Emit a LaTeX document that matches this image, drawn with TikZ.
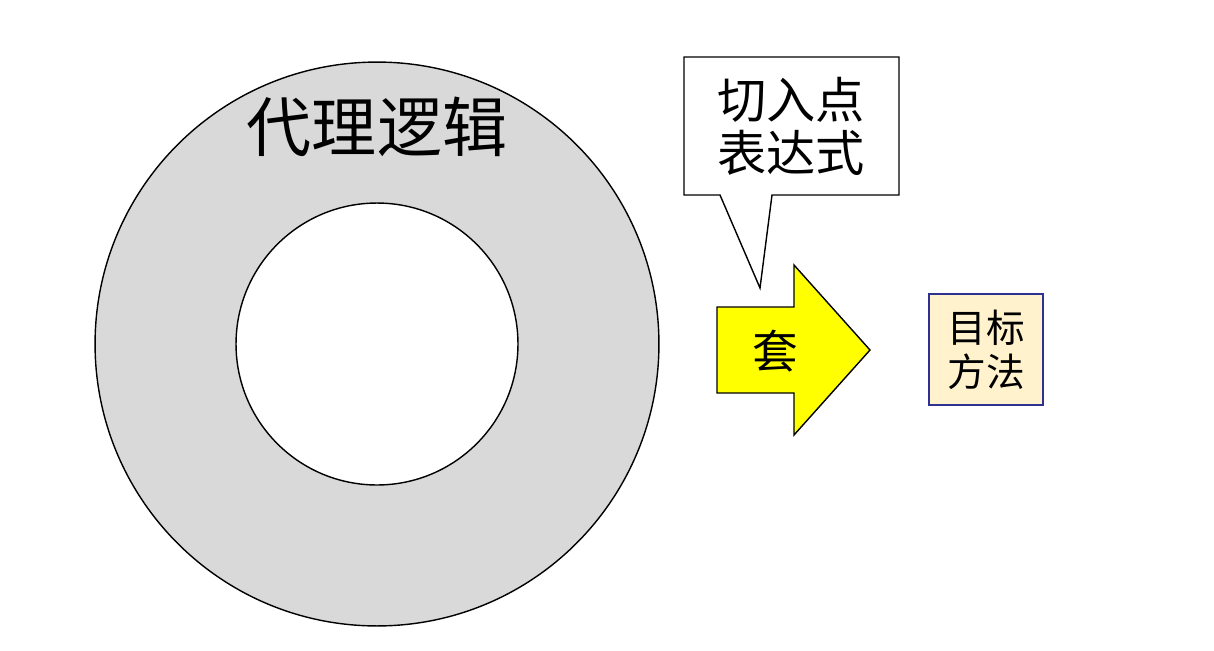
\documentclass[tikz,border=0pt]{standalone}
\usepackage{fontspec}
\newfontfamily\cjk{Noto Sans CJK SC}
\usetikzlibrary{positioning}
\definecolor{ringgray}{HTML}{D9D9D9}
\definecolor{arrowyellow}{HTML}{FFFF00}
\definecolor{targetfill}{HTML}{FFF2CC}
\definecolor{targetdraw}{HTML}{2E3192}
\tikzset{
  outline/.style={draw=black, line width=0.8pt},
  ringlabel/.style={font=\cjk\fontsize{37}{42}\selectfont, inner sep=0pt},
  calloutlabel/.style={font=\cjk\fontsize{28}{30}\selectfont, align=center, inner sep=0pt},
  arrowlabel/.style={font=\cjk\fontsize{26}{30}\selectfont, inner sep=0pt},
  targetbox/.style={
    draw=targetdraw,
    fill=targetfill,
    line width=0.9pt,
    align=center,
    minimum width=2.28cm,
    minimum height=2.22cm,
    inner sep=0pt,
    font=\cjk\fontsize{22}{25}\selectfont
  }
}

\begin{document}
\begin{tikzpicture}[x=0.02cm, y=-0.02cm]
\useasboundingbox (0,0) rectangle (1214,650);

% ring
\coordinate (ringc) at (377,344);
\draw[outline, fill=ringgray] (ringc) circle (5.64cm);
\draw[outline, fill=white] (ringc) circle (2.82cm);
\node[ringlabel] (proxy) at (377,127) {代理逻辑};

% callout
\coordinate (tip) at (760,288);
\draw[outline, fill=white] (684,57) -- (899,57) -- (899,195) -- (772,195)
  -- (tip) -- (720,195) -- (684,195) -- cycle;
\node[calloutlabel] (pointcut) at (791,126) {切入点\\表达式};

% arrow
\draw[outline, fill=arrowyellow] (717,307) -- (794,307) -- (794,265) -- (870,350)
  -- (794,435) -- (794,393) -- (717,393) -- cycle;
\node[arrowlabel] (wrap) at (775,351) {套};

% target
\node[targetbox] (target) at (986,349.5) {目标\\方法};
\end{tikzpicture}
\end{document}
